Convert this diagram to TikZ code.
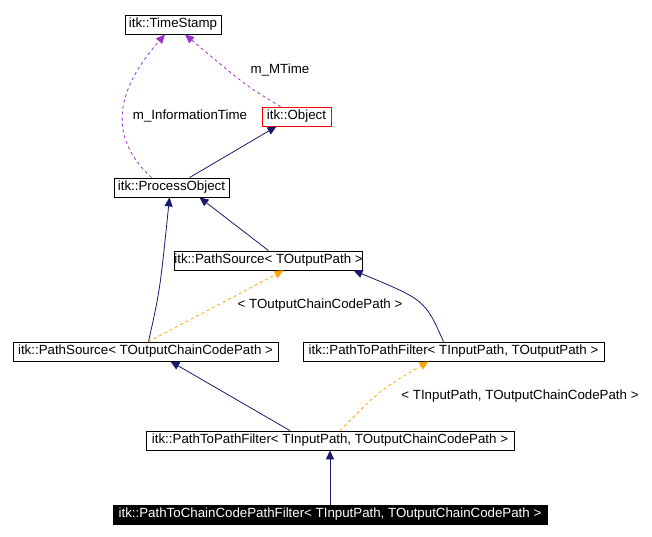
\documentclass[tikz,border=0pt]{standalone}
\usepackage{fontspec}
\setmainfont{Liberation Sans}
\usetikzlibrary{arrows.meta}

\tikzset{
    cls/.style={draw=black, fill=white, inner sep=0pt, text height=9pt, text depth=3pt, minimum height=19pt, font=\fontsize{13.3}{15}\selectfont},
    inherit/.style={draw=navyblue, -{Triangle[length=9pt,width=8pt]}},
    usage/.style={draw=violetdash, dashed, -{Triangle[length=9pt,width=8pt]}},
    templ/.style={draw=orangedash, dashed, -{Triangle[length=9pt,width=8pt]}},
    lbl/.style={font=\fontsize{13.3}{15}\selectfont}
}
\definecolor{navyblue}{RGB}{25,25,112}
\definecolor{violetdash}{RGB}{154,50,205}
\definecolor{orangedash}{RGB}{255,165,0}

\begin{document}
\begin{tikzpicture}[x=1pt, y=-1pt, line width=0.8pt]

    % Bounding box
    \useasboundingbox (0,0) rectangle (652,537);

    % Classes
    \node[cls, minimum width=96pt] (stamp) at (173,24.5) {itk::TimeStamp};
    \node[cls, draw=red, minimum width=69pt] (object) at (296.5,116.5) {itk::Object};
    \node[cls, minimum width=115pt] (procobj) at (171.5,187.5) {itk::ProcessObject};
    \node[cls, minimum width=169pt] (srcout) at (268.5,260.5) {itk::PathSource< TOutputPath >};
    \node[cls, minimum width=265pt] (srcccp) at (145.5,351.5) {itk::PathSource< TOutputChainCodePath >};
    \node[cls, minimum width=301pt] (filtout) at (453.5,351.5) {itk::PathToPathFilter< TInputPath, TOutputPath >};
    \node[cls, minimum width=368pt] (filtccp) at (330,440.5) {itk::PathToPathFilter< TInputPath, TOutputChainCodePath >};
    \node[cls, fill=black, text=white, minimum width=434pt] (chain) at (330,514.5) {itk::PathToChainCodePathFilter< TInputPath, TOutputChainCodePath >};

    % Members
    \draw[usage] ([xshift=-16pt]object.north) .. controls (245,85) .. ([xshift=12pt]stamp.south);
    \node[lbl] (mtime) at (280,70) {m\_MTime};
    \draw[usage] ([xshift=-20pt]procobj.north) .. controls (100,130) and (125,80) .. ([xshift=-8pt]stamp.south);
    \node[lbl] (infotime) at (190,116.5) {m\_InformationTime};

    % Inheritance
    \draw[inherit] ([xshift=18pt]procobj.north) -- ([xshift=-20pt]object.south);
    \draw[inherit] (srcout.north) -- ([xshift=28pt]procobj.south);
    \draw[inherit] ([xshift=3pt]srcccp.north) .. controls (160,290) .. ([xshift=-2pt]procobj.south);
    \draw[inherit] ([xshift=-10pt]filtout.north) .. controls (425,300) .. ([xshift=85pt]srcout.south);
    \draw[inherit] ([xshift=-40pt]filtccp.north) -- ([xshift=25pt]srcccp.south);
    \draw[inherit] (chain.north) -- (filtccp.south);

    % Template instances
    \draw[templ] ([xshift=3pt]srcccp.north) -- ([xshift=15pt]srcout.south);
    \node[lbl] (argccp) at (320,305) {< TOutputChainCodePath >};
    \draw[templ] ([xshift=10pt]filtccp.north) .. controls (380,390) .. ([xshift=-25pt]filtout.south);
    \node[lbl] (argboth) at (520,396) {< TInputPath, TOutputChainCodePath >};

\end{tikzpicture}
\end{document}
